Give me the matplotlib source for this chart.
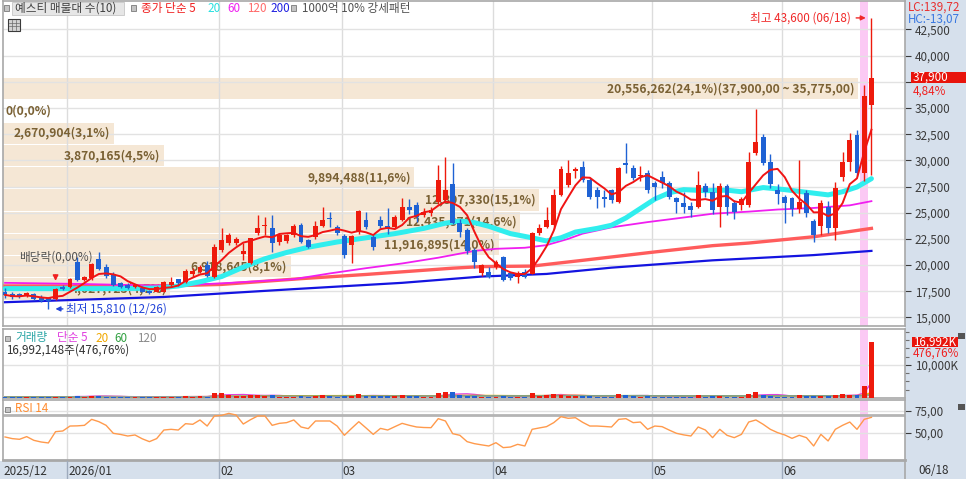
import numpy as np
import pandas as pd
import matplotlib
matplotlib.use("Agg")
import matplotlib.pyplot as plt
from matplotlib.patches import Rectangle
from matplotlib.ticker import FuncFormatter
from matplotlib.transforms import blended_transform_factory

plt.rcParams['font.family'] = ['Noto Sans CJK KR', 'DejaVu Sans']
plt.rcParams['font.size'] = 8

# ---- values ----
month_labels = ["2025/12", "2026/01", "02", "03", "04", "05", "06"]
month_start = [0, 9, 30, 47, 68, 90, 108]
last_label = "06/18"
signal_day = 119

opens = [17450, 17235, 17235, 17040, 17235, 16980, 16820, 16760, 17940, 17940,
         20320, 18570, 18730, 20550, 19780, 19150, 18250, 18100, 17870, 17840,
         17500, 17460, 17460, 18100, 18640, 18410, 19100, 19300, 20000, 18900,
         21400, 22070, 22070, 21100, 20160, 23030, 23750, 23500, 22230, 22330,
         22870, 23820, 22390, 22650, 23730, 24460, 23600, 22770, 21910, 23190,
         24300, 22650, 24300, 23730, 23670, 24300, 25510, 25730, 24780, 24940,
         26050, 26210, 27700, 24000, 23350, 21440, 19210, 19370, 19850, 20800,
         19210, 18890, 19370, 19150, 23030, 23670, 23830, 26690, 27640, 29010,
         29400, 28120, 27170, 26530, 27170, 26050, 29710, 29240, 28500, 28760,
         27800, 28380, 27800, 26370, 25960, 25640, 25580, 27580, 27010, 25580,
         27580, 25960, 25730, 25730, 30730, 32260, 29870, 27170, 26530, 26370,
         25320, 26850, 24240, 23730, 25510, 23510, 28440, 29870, 32420, 28760,
         35300]
highs = [17780, 17400, 17300, 17400, 17350, 17100, 16900, 17800, 18050, 18800,
         20800, 19000, 20200, 21280, 20100, 19300, 18400, 18300, 18200, 18000,
         17600, 18000, 18500, 18900, 18700, 19600, 19700, 20000, 20400, 22000,
         23550, 23100, 22700, 22100, 22600, 24780, 24620, 24780, 23100, 23000,
         23900, 24000, 22500, 24240, 25510, 25100, 23800, 23000, 22900, 25300,
         25100, 22900, 24700, 25400, 24800, 26370, 26300, 26000, 25400, 25500,
         29550, 30350, 29700, 24400, 23500, 21600, 20100, 19800, 20500, 20900,
         19300, 19400, 19600, 23200, 23900, 25500, 27300, 29500, 30000, 29400,
         29900, 28300, 27500, 27200, 27300, 29400, 31620, 29600, 29500, 29100,
         28000, 29000, 28000, 26500, 27000, 26000, 29020, 27800, 27800, 27800,
         27700, 26200, 26500, 30830, 34870, 32520, 30610, 27700, 26700, 26500,
         30030, 27200, 24400, 26200, 26100, 27960, 30830, 32640, 32900, 37190,
         43600]
lows = [16820, 16800, 16850, 16950, 16650, 16500, 15810, 16650, 17600, 17850,
        18500, 18450, 18600, 19500, 18800, 18000, 17800, 17700, 17800, 17400,
        17200, 17400, 17400, 18000, 18000, 18300, 18900, 19200, 18900, 18800,
        21250, 21950, 21900, 20500, 20100, 22900, 22870, 21280, 21900, 22100,
        22700, 22100, 21600, 22500, 23600, 23660, 22900, 20700, 20160, 23000,
        23400, 21440, 23500, 23000, 23500, 24200, 24900, 24100, 24600, 24700,
        25800, 26000, 23900, 22700, 21100, 19690, 19000, 18800, 19600, 18500,
        18600, 18250, 18800, 19100, 22900, 23500, 23400, 26600, 27500, 28300,
        27900, 26300, 25400, 25500, 25900, 25950, 28800, 28100, 28000, 26900,
        26200, 27400, 26300, 25000, 24940, 24600, 25400, 26500, 24900, 23670,
        24800, 24400, 25300, 25500, 30500, 29600, 27400, 25800, 23990, 24700,
        25000, 24600, 22200, 22900, 23100, 22390, 28000, 29000, 28500, 28000,
        28600]
closes = [17150, 16920, 16980, 17300, 16730, 16600, 16600, 17680, 17680, 18670,
          18570, 18830, 20070, 19590, 18950, 18100, 17870, 17780, 18100, 17460,
          17300, 17870, 18350, 18410, 18300, 19460, 19450, 19850, 19000, 21750,
          22350, 22870, 22450, 21300, 22550, 23500, 23850, 22070, 22870, 22870,
          23730, 22230, 21760, 23730, 24300, 24400, 23030, 20960, 22770, 25190,
          23670, 21760, 23730, 23410, 24620, 25580, 25260, 24620, 25100, 25260,
          28120, 27170, 24000, 23200, 21300, 20320, 20000, 18890, 20320, 18570,
          18730, 19210, 18890, 23030, 23510, 24300, 26690, 29140, 28760, 29140,
          28120, 26530, 26530, 26310, 26210, 29240, 29550, 28280, 28630, 27170,
          27490, 27800, 26530, 26050, 25580, 25260, 27650, 26950, 25260, 27550,
          25580, 25100, 26280, 29870, 31780, 29780, 27740, 26750, 25890, 25320,
          26050, 25000, 22870, 25960, 23510, 27330, 29870, 31940, 28760, 36150,
          37900]
volumes = [320000, 280000, 250000, 300000, 330000, 300000, 420000, 380000, 300000, 420000,
           700000, 450000, 750000, 600000, 450000, 400000, 300000, 280000, 260000, 300000,
           280000, 300000, 450000, 380000, 320000, 550000, 400000, 500000, 450000, 1600000,
           1500000, 900000, 600000, 650000, 1000000, 900000, 700000, 800000, 450000, 400000,
           450000, 500000, 400000, 700000, 800000, 600000, 450000, 700000, 600000, 1100000,
           700000, 650000, 550000, 600000, 550000, 900000, 600000, 550000, 400000, 450000,
           1400000, 1700000, 1700000, 800000, 700000, 550000, 450000, 400000, 450000, 600000,
           400000, 350000, 350000, 1500000, 700000, 900000, 1100000, 1000000, 700000, 500000,
           550000, 600000, 450000, 350000, 400000, 1300000, 900000, 600000, 450000, 500000,
           400000, 400000, 450000, 350000, 300000, 300000, 900000, 450000, 500000, 600000,
           450000, 350000, 350000, 1300000, 1800000, 900000, 700000, 400000, 450000, 400000,
           900000, 500000, 600000, 550000, 500000, 900000, 1200000, 900000, 900000, 3564089,
           16992148]
rsi14 = [45.1, 43.2, 42.4, 45.5, 41.2, 39.3, 38.2, 51.2, 52.0, 57.7,
         57.9, 58.5, 65.4, 62.7, 58.5, 49.3, 48.0, 46.2, 47.4, 43.0,
         39.7, 43.2, 53.1, 53.9, 53.1, 60.4, 59.7, 64.7, 57.7, 69.3,
         70.0, 72.3, 70.4, 60.0, 65.0, 69.3, 69.3, 58.5, 60.8, 61.6,
         64.7, 56.6, 54.7, 63.5, 63.5, 63.5, 57.7, 47.0, 55.0, 62.7,
         55.5, 48.1, 55.0, 53.1, 57.0, 60.8, 58.5, 56.6, 56.0, 55.8,
         66.2, 63.5, 48.9, 47.0, 39.7, 37.4, 36.0, 34.7, 38.5, 32.8,
         33.5, 36.6, 34.7, 53.9, 55.5, 57.0, 61.6, 68.5, 66.6, 67.3,
         62.0, 57.7, 57.7, 57.2, 56.6, 65.4, 66.2, 61.6, 62.3, 53.9,
         57.7, 57.0, 53.0, 49.3, 47.5, 46.2, 56.6, 53.1, 44.3, 53.9,
         47.0, 44.3, 48.1, 62.3, 64.7, 59.7, 53.9, 50.1, 47.4, 43.5,
         47.0, 44.3, 34.7, 48.1, 40.5, 53.9, 58.5, 62.3, 53.9, 65.4,
         67.7]

# moving averages that need history before the visible range (read at sample days)
ma20_idx = [0, 10, 16, 21, 24, 27, 30, 33, 36, 39, 42, 46, 50, 54, 58, 61, 63, 65, 67, 70,
            73, 75, 77, 79, 82, 84, 86, 88, 90, 92, 94, 97, 100, 102, 105, 108, 111, 114, 116, 118, 120]
ma20_val = [17750, 17750, 17750, 17800, 18000, 18400, 18900, 19800, 20600, 21200,
            21700, 22200, 22600, 23000, 23500, 24000, 24200, 24050, 23700, 23000,
            22600, 22300, 22600, 23150, 23500, 23800, 24500, 25400, 26300, 26900,
            27200, 27100, 27150, 27000, 27400, 27200, 26950, 26700, 27000, 27450, 28250]
ma60_idx = [0, 10, 20, 25, 30, 35, 40, 45, 50, 55, 60, 65, 68, 72, 75, 78, 80, 84, 89,
            93, 98, 103, 107, 112, 117, 120]
ma60_val = [18300, 18200, 18050, 18100, 18250, 18450, 18650, 19200, 19700, 20150, 20700,
            21350, 21550, 21650, 21900, 22500, 23000, 23600, 24100, 24450, 24900, 25100,
            25300, 25450, 25700, 26100]
ma120_idx = [0, 22, 30, 41, 50, 62, 66, 73, 80, 90, 98, 103, 112, 120]
ma120_val = [18000, 18000, 18150, 18700, 19100, 19700, 19850, 19900, 20450, 21250,
             21850, 22100, 22700, 23500]
ma200_idx = [0, 22, 40, 55, 66, 75, 84, 98, 112, 120]
ma200_val = [16450, 16950, 17700, 18300, 18900, 19150, 19750, 20450, 20950, 21350]

# volume profile (10 price bands, bottom to top)
band_edges = [16650, 18775, 20900, 23025, 25150, 27275, 29400, 31525, 33650, 35775, 37900]
band_volumes = [4027723, 6918645, 11916895, 12435871, 12897330, 9894488,
                3870165, 2670904, 0, 20556262]
band_pcts = [4.7, 8.1, 14.0, 14.6, 15.1, 11.6, 4.5, 3.1, 0.0, 24.1]

# ---- colours ----
UP = '#EE1A0C'
DOWN = '#1F62D4'
BAND = '#F5E7D5'
BAND_TXT = '#7A6134'
GRID = '#E2E2E2'
PANEL = '#D6E0EC'
PINK = '#FBC9F4'

W, H = 966, 479
fig = plt.figure(figsize=(W / 100, H / 100), dpi=100)
fig.patch.set_facecolor('white')


def box(x0, y0, x1, y1):
    return [x0 / W, 1 - y1 / H, (x1 - x0) / W, (y1 - y0) / H]


def ftext(x, y, s, **kw):
    kw.setdefault('va', 'center')
    return fig.text(x / W, 1 - y / H, s, **kw)


def frect(x0, y0, x1, y1, **kw):
    r = Rectangle((x0 / W, 1 - y1 / H), (x1 - x0) / W, (y1 - y0) / H,
                  transform=fig.transFigure, **kw)
    fig.add_artist(r)
    return r


# right axis panel and bottom date strip
frect(905, 0, 966, 479, facecolor=PANEL, edgecolor='none', zorder=-2)
frect(0, 461, 966, 479, facecolor=PANEL, edgecolor='none', zorder=-2)

n = len(closes)
idx = np.arange(n)
o = np.array(opens, float)
hi = np.array(highs, float)
lo = np.array(lows, float)
c = np.array(closes, float)
vol = np.array(volumes, float)
colors = np.where(c >= o, UP, DOWN)
ma5 = pd.Series(c).rolling(5, min_periods=1).mean()
grid_x = [m - 0.35 for m in month_start[1:]]
XL = (-0.28, 124.65)

ax = fig.add_axes(box(3, 1, 905, 326))
axv = fig.add_axes(box(3, 329, 905, 398))
axr = fig.add_axes(box(3, 400, 905, 460))
axx = fig.add_axes(box(3, 461, 905, 479))

for a in (ax, axv, axr, axx):
    a.set_xlim(*XL)
    a.set_xticks([])
    for s in a.spines.values():
        s.set_color('#A8A8A8')
        s.set_linewidth(1.2)
    a.yaxis.tick_right()
    a.tick_params(axis='y', length=4, width=0.8, pad=3, labelsize=8.4,
                  colors='#3A3A3A', direction='out')
    if a is not axx:
        for gx in grid_x:
            a.axvline(gx, color='#DCDCDC', lw=1, zorder=1)
        a.axvspan(signal_day - 0.55, signal_day + 0.55, color=PINK, lw=0, zorder=0.8)

# ---- price panel ----
ax.set_ylim(14178, 45215)
price_ticks = list(range(15000, 42501, 2500))
ax.set_yticks(price_ticks)
# the 37,500 label sits under the last-price box, so it is left blank
ax.yaxis.set_major_formatter(FuncFormatter(
    lambda v, p: "" if abs(v - c[-1]) < 1000 else f"{v:,.0f}"))
for v in price_ticks:
    ax.axhline(v, color=GRID, lw=1, zorder=1.5)

span = 118.4
left = XL[0]
vmax = max(band_volumes)
top_band = band_volumes.index(vmax)
for k, bv in enumerate(band_volumes):
    b_lo, b_hi = band_edges[k], band_edges[k + 1]
    mid = (b_lo + b_hi) / 2
    w = bv / vmax * span
    label = f"{bv:,}({band_pcts[k]:.1f}%)".replace('.', ',')
    if k == top_band:
        label += f"({b_hi:,.2f} ~ {b_lo:,.2f})".replace('.', ',')
    if w > 0:
        ax.barh(mid, w, height=(b_hi - b_lo) - 90, left=left, color=BAND, lw=0, zorder=0.5)
        ax.text(left + w - 0.5, mid, label, ha='right', va='center', fontsize=8.7,
                fontweight='bold', color=BAND_TXT, zorder=2)
    else:
        ax.text(left + 0.35, mid, label, ha='left', va='center', fontsize=8.7,
                fontweight='bold', color=BAND_TXT, zorder=2)

ax.plot(ma200_idx, ma200_val, color='#1414E0', lw=1.6, zorder=3)
ax.plot(ma120_idx, ma120_val, color='#FF5C5C', lw=2.4, zorder=3)
ax.plot(ma60_idx, ma60_val, color='#F01EF0', lw=1.3, zorder=3)
ax.plot(ma20_idx, ma20_val, color='#30EEEE', lw=3.6, zorder=3, solid_capstyle='round')

ax.vlines(idx, lo, hi, colors=colors, lw=1, zorder=4)
ax.bar(idx, np.maximum(np.abs(c - o), 70), bottom=np.minimum(o, c), width=0.68,
       color=colors, lw=0, zorder=4)
ax.plot(idx, ma5, color='#F01414', lw=1.4, zorder=5)

# high / low / dividend annotations
i_hi = int(np.argmax(hi))
ax.annotate('', xy=(i_hi - 0.4, hi[i_hi]), xytext=(i_hi - 2.5, hi[i_hi]),
            arrowprops=dict(arrowstyle='-|>', color='#F02828', lw=1, mutation_scale=7),
            zorder=6)
ax.text(i_hi - 2.9, hi[i_hi], f"최고 {hi[i_hi]:,.0f} (06/18)", ha='right', va='center',
        color='#F02828', fontsize=8.4, zorder=6)
i_lo = int(np.argmin(lo))
ax.annotate('', xy=(i_lo + 0.6, lo[i_lo]), xytext=(i_lo + 2.4, lo[i_lo]),
            arrowprops=dict(arrowstyle='-|>', color='#2244D8', lw=1, mutation_scale=7),
            zorder=6)
ax.text(i_lo + 2.4, lo[i_lo], f"최저 {lo[i_lo]:,.0f} (12/26)", ha='left', va='center',
        color='#2244D8', fontsize=8.4, zorder=6)
i_div = 7
ax.annotate('', xy=(i_div, hi[i_div] + 420), xytext=(i_div, hi[i_div] + 1500),
            arrowprops=dict(arrowstyle='-|>', color='#F02020', lw=1, mutation_scale=8),
            zorder=6)
ax.text(i_div, hi[i_div] + 2950, "배당락(0,00%)", ha='center', va='center',
        color='#505050', fontsize=8.4, zorder=6)

# ---- volume panel ----
axv.set_ylim(0, 20.9e6)
axv.set_yticks([1e7])
axv.set_yticklabels(["10,000K"])
axv.set_yticks([2.5e6, 5e6, 7.5e6, 12.5e6, 15e6, 17.5e6, 20e6], minor=True)
axv.tick_params(axis='y', which='minor', length=3, width=0.8, colors='#707070')
axv.axhline(1e7, color=GRID, lw=1, zorder=1)
axv.bar(idx, vol, width=0.68, color=colors, lw=0, zorder=4)
vs = pd.Series(vol)
for win, col in ((5, '#E040E0'), (20, '#F0B000'), (60, '#40B048'), (120, '#9A9A9A')):
    axv.plot(idx, vs.rolling(win, min_periods=1).mean(), color=col, lw=1, zorder=3)

# ---- RSI panel ----
axr.set_ylim(18.55, 87.7)
axr.set_yticks([50, 75])
axr.yaxis.set_major_formatter(FuncFormatter(lambda v, p: f"{v:.2f}".replace('.', ',')))
axr.axhline(75, color=GRID, lw=1, zorder=1)
axr.axhline(50, color=GRID, lw=1, zorder=1)
axr.axhline(70, color='#B4B4B4', lw=2, zorder=1)
axr.spines['bottom'].set_linewidth(2)
axr.plot(idx, rsi14, color='#FF9A4C', lw=1, zorder=3)

# ---- date strip ----
axx.set_facecolor('none')
axx.set_yticks([])
axx.set_ylim(0, 1)
for s in axx.spines.values():
    s.set_visible(False)
tx = axx.get_xaxis_transform()
for m, lab in zip(month_start, month_labels):
    xpos = m - 0.35 if m > 0 else XL[0]
    if m > 0:
        axx.axvline(xpos, color='#9EABBD', lw=1)
    axx.text(xpos + 0.12, 0.42, lab, transform=tx, ha='left', va='center',
             fontsize=8.4, color='#303030')
ftext(918, 470.5, last_label, fontsize=8.4, color='#303030')
fig.add_artist(plt.Line2D([905 / W, 905 / W], [0, 1 - 461 / H],
                          transform=fig.transFigure, color='#A8A8A8', lw=1.2))


# ---- legends and right-side labels ----
def sq(x, y):
    frect(x - 2.5, y - 2.5, x + 2.5, y + 2.5, facecolor='#C4C4C4', edgecolor='#7A7A7A',
          lw=0.6, zorder=5)


sq(6, 8)
frect(12, 2, 124, 15, facecolor='#E6E6E6', edgecolor='#C6C6C6', lw=0.6, zorder=4)
ftext(15, 8.5, "예스티 매물대 수(10)", color='#404040', fontsize=8.4, zorder=6)
sq(133, 8)
ftext(141, 8.5, "종가 단순 5", color='#F02020', fontsize=8.4)
ftext(207, 8.5, "20", color='#28E0E0', fontsize=8.4)
ftext(227, 8.5, "60", color='#F020F0', fontsize=8.4)
ftext(247, 8.5, "120", color='#FF6A6A', fontsize=8.4)
ftext(270, 8.5, "200", color='#2020E0', fontsize=8.4)
sq(293, 8)
ftext(302, 8.5, "1000억 10% 강세패턴", color='#505050', fontsize=8.4)
frect(8, 19, 20, 31, facecolor='#D4D4D4', edgecolor='#3A3A3A', lw=0.8, zorder=5)
for gy in (22.5, 26):
    fig.add_artist(plt.Line2D([9 / W, 19 / W], [1 - gy / H] * 2, transform=fig.transFigure,
                              color='#6A6A6A', lw=0.5, zorder=6))
for gxx in (12, 16):
    fig.add_artist(plt.Line2D([gxx / W] * 2, [1 - 20 / H, 1 - 30 / H], transform=fig.transFigure,
                              color='#6A6A6A', lw=0.5, zorder=6))

ftext(908, 7, "LC:139,72", color='#E83030', fontsize=8.4)
ftext(908, 19, "HC:-13,07", color='#3A78E0', fontsize=8.4)

tp = blended_transform_factory(fig.transFigure, ax.transData)
fig.add_artist(Rectangle((910.5 / W, c[-1] - 540), 55.5 / W, 1080, transform=tp,
                         facecolor='#E8140C', edgecolor='none', zorder=4))
fig.text(913 / W, c[-1], f"{c[-1]:,.0f}", transform=tp, color='white', fontsize=8.4,
         va='center', zorder=5)
chg = (c[-1] / c[-2] - 1) * 100
fig.text(913 / W, c[-1] - 1250, f"{chg:.2f}%".replace('.', ','), transform=tp,
         color='#F02020', fontsize=8.4, va='center', zorder=5)

tv = blended_transform_factory(fig.transFigure, axv.transData)
fig.add_artist(Rectangle((911.5 / W, vol[-1] - 1.6e6), 46.5 / W, 3.2e6, transform=tv,
                         facecolor='#E8140C', edgecolor='none', zorder=4))
fig.text(913 / W, vol[-1], f"{int(vol[-1]) // 1000:,}K", transform=tv, color='white',
         fontsize=8.4, va='center', zorder=5)
vr = vol[-1] / vol[-2] * 100
fig.text(913 / W, vol[-1] - 3.5e6, f"{vr:.2f}%".replace('.', ','), transform=tv,
         color='#F02020', fontsize=8.4, va='center', zorder=5)
frect(958, 333, 965, 339, facecolor='#555555', edgecolor='none', zorder=5)
frect(958, 404, 965, 410, facecolor='#555555', edgecolor='none', zorder=5)

sq(7, 338)
ftext(15, 338, "거래량", color='#2AA6A6', fontsize=8.4)
ftext(57, 338, "단순 5", color='#E040E0', fontsize=8.4)
ftext(95, 338, "20", color='#F0A800', fontsize=8.4)
ftext(114, 338, "60", color='#30A040', fontsize=8.4)
ftext(137, 338, "120", color='#8A8A8A', fontsize=8.4)
ftext(6, 350, f"{int(vol[-1]):,}주({vr:.2f}%)".replace('.', ','), color='#303030', fontsize=8.4)

sq(7, 409)
ftext(15, 409, "RSI 14", color='#FF8C30', fontsize=8.4)

fig.savefig("out.png", dpi=100, facecolor='white')
